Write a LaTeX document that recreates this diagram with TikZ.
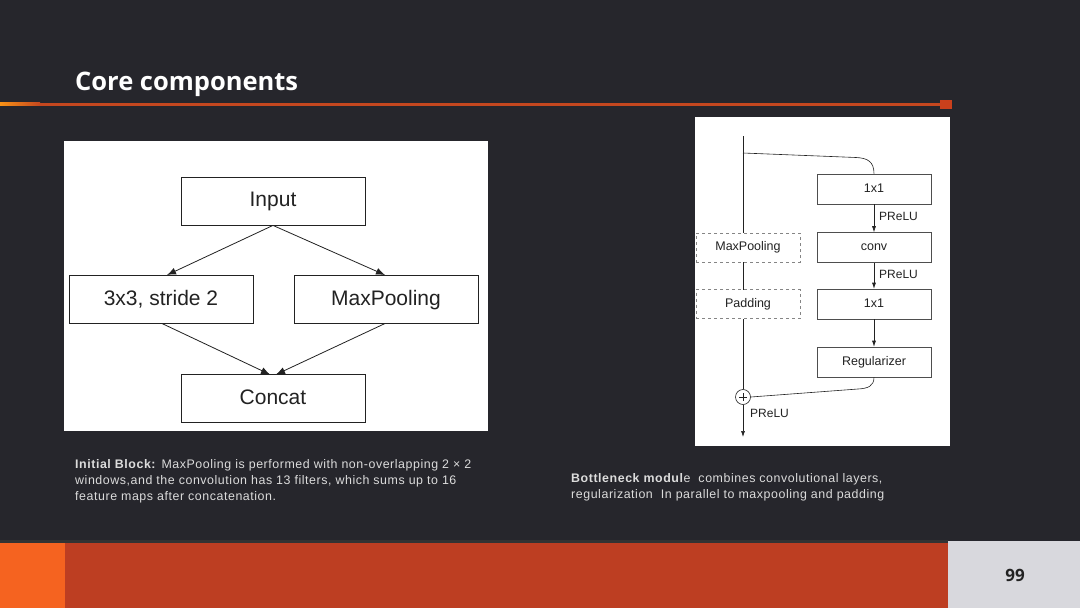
\documentclass[tikz,border=0pt]{standalone}
\usepackage{fontspec}
\setmainfont{Liberation Sans}
\newfontfamily\titlefont{Open Sans}
\newfontfamily\capfont[LetterSpace=4.5]{Liberation Sans}
\usetikzlibrary{arrows.meta}
\definecolor{bg}{HTML}{26262C}
\definecolor{accent}{HTML}{C4471F}
\definecolor{bandred}{HTML}{BD3E22}
\definecolor{bandorange}{HTML}{F56320}
\definecolor{pagegray}{HTML}{D8D8DD}
\definecolor{captxt}{HTML}{DCDCDC}
\definecolor{ink}{HTML}{222222}
\tikzset{
  bigbox/.style={draw=ink, line width=0.8pt, fill=white, minimum width=184pt, minimum height=48pt, inner sep=0pt, text height=15pt, text depth=4pt, font=\fontsize{21}{24}\selectfont, text=ink},
  smallbox/.style={draw=ink!80, line width=0.6pt, fill=white, minimum width=114pt, minimum height=30pt, inner sep=0pt, text height=9pt, text depth=2.5pt, font=\fontsize{12.5}{14}\selectfont, text=ink},
  dashbox/.style={smallbox, dashed, draw=ink!55, minimum width=104pt, minimum height=29pt},
  bigarrow/.style={draw=ink, line width=0.8pt, -{Latex[length=9pt,width=7pt]}},
  smallarrow/.style={draw=ink, line width=0.6pt, -{Latex[length=6pt,width=4pt]}},
  thinline/.style={draw=ink, line width=0.6pt},
  lbl/.style={anchor=west, inner sep=0pt, font=\fontsize{12}{14}\selectfont, text=ink},
  caption/.style={anchor=north west, inner sep=0pt, align=left, text=captxt, font=\capfont\fontsize{12.4}{16}\selectfont}
}
\begin{document}
\begin{tikzpicture}[x=1pt,y=-1pt]
\useasboundingbox (0,0) rectangle (1080,608);
\fill[bg] (0,0) rectangle (1080,608);
% title
\node[anchor=base west, inner sep=0pt, text=white, font=\titlefont\bfseries\fontsize{25.5}{28}\selectfont] (title) at (75,90) {Core components};
% accent line
\fill[accent] (0,102.5) rectangle (942,105.5);
\fill[left color=bandorange!70!yellow, right color=accent] (0,102.5) rectangle (40,105.5);
\fill[accent!90!red] (940,99.5) rectangle (952,108.5);
% bottom band
\fill[black!80] (0,540) rectangle (948,543);
\fill[bandred] (0,543) rectangle (948,608);
\fill[bandorange] (0,543) rectangle (65,608);
\fill[pagegray] (948,541) rectangle (1080,608);
\node[text=ink, font=\titlefont\bfseries\fontsize{17}{20}\selectfont] (pnum) at (1015,575) {99};

% ===== left panel =====
\fill[white] (64,141) rectangle (488,431);
\node[bigbox] (inp) at (273,201) {Input};
\node[bigbox] (conv3) at (161,299.5) {3x3, stride 2};
\node[bigbox] (mp) at (386,299.5) {MaxPooling};
\node[bigbox] (cat) at (273,398.5) {Concat};
\draw[bigarrow] (inp.south) -- (167,275);
\draw[bigarrow] (inp.south) -- (385,275);
\draw[bigarrow] (162,323.5) -- (270,374.5);
\draw[bigarrow] (385,323.5) -- (276,374.5);

% ===== right panel =====
\fill[white] (695,117) rectangle (950,446);
\coordinate (top) at (743,136);
\coordinate (split) at (743,153);
\coordinate (out) at (743,437);
\node[draw=ink, line width=0.6pt, circle, fill=white, minimum size=15pt, inner sep=0pt] (plus) at (743,397) {};
\draw[thinline] (top) -- (plus.north);
\node[dashbox] (dmp) at (748,247.5) {MaxPooling};
\node[dashbox] (dpad) at (748,304) {Padding};
\draw[line width=0.6pt, ink] (plus.center) ++(-4,0) -- ++(8,0) (plus.center) ++(0,-4) -- ++(0,8);
\node[smallbox] (c1) at (874,189) {1x1};
\node[smallbox] (cv) at (874,247.5) {conv};
\node[smallbox] (c2) at (874,304) {1x1};
\node[smallbox] (reg) at (874,362) {Regularizer};
\draw[thinline] (split) -- (856,157.5) .. controls (868,158) and (874,162) .. (c1.north);
\draw[smallarrow] (c1.south) -- (cv.north);
\draw[smallarrow] (cv.south) -- (c2.north);
\draw[smallarrow] (c2.south) -- (reg.north);
\draw[thinline] (reg.south) .. controls (874,386) and (868,388.5) .. (858,389) -- (plus.east);
\draw[smallarrow] (plus.south) -- (out);
\node[lbl] (p1) at (879,216) {PReLU};
\node[lbl] (p2) at (879,274) {PReLU};
\node[lbl] (p3) at (750,413) {PReLU};

% captions
\node[caption] (capl) at (75,459.5) {\textbf{Initial Block:} MaxPooling is performed with non-overlapping 2 × 2\\windows,and the convolution has 13 filters, which sums up to 16\\feature maps after concatenation.};
\node[caption] (capr) at (571,473.5) {\textbf{Bottleneck modul}e\ \ combines convolutional layers,\\regularization\ \ In parallel to maxpooling and padding};
\end{tikzpicture}
\end{document}
